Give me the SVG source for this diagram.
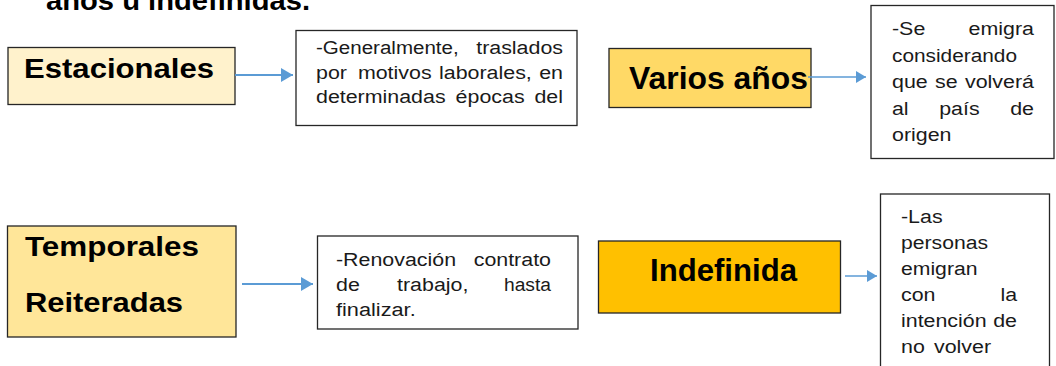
<svg xmlns="http://www.w3.org/2000/svg" width="1056" height="366" viewBox="0 0 1056 366">
<style>
.bx{stroke:#262626;stroke-width:1.3}
.tb{fill:#ffffff;stroke:#262626;stroke-width:1.3}
.h{font-family:"Liberation Sans",Arial,sans-serif;font-weight:bold;fill:#000}
.t{font-family:"Liberation Sans",Arial,sans-serif;font-size:18px;fill:#1a1a1a}
.c{stroke:#5B9BD5;fill:none}
</style>
<defs>
<marker id="ab" markerUnits="userSpaceOnUse" markerWidth="12" markerHeight="14" refX="12" refY="7" orient="auto"><path d="M0,0 L12,7 L0,14 Z" fill="#5B9BD5"/></marker>
<marker id="as" markerUnits="userSpaceOnUse" markerWidth="10" markerHeight="12" refX="10" refY="6" orient="auto"><path d="M0,0 L10,6 L0,12 Z" fill="#5B9BD5"/></marker>
</defs>
<rect width="1056" height="366" fill="#ffffff"/>
<text class="h" x="46" y="10" font-size="28" textLength="264" lengthAdjust="spacingAndGlyphs">años u indefinidas.</text>

<g id="estacionales">
<rect class="bx" x="8" y="47.5" width="227" height="57" fill="#FFF2CC"/>
<text class="h" x="24" y="78" font-size="27" textLength="190" lengthAdjust="spacingAndGlyphs">Estacionales</text>
</g>
<g id="desc-estacionales">
<rect class="tb" x="296" y="30.5" width="281" height="95"/>
<text class="t" x="316" y="54" textLength="142.7" lengthAdjust="spacingAndGlyphs">-Generalmente,</text>
<text class="t" x="476.2" y="54" textLength="86.8" lengthAdjust="spacingAndGlyphs">traslados</text>
<text class="t" x="316" y="78.5" textLength="30.9" lengthAdjust="spacingAndGlyphs">por</text>
<text class="t" x="357.9" y="78.5" textLength="73.7" lengthAdjust="spacingAndGlyphs">motivos</text>
<text class="t" x="439" y="78.5" textLength="92.8" lengthAdjust="spacingAndGlyphs">laborales,</text>
<text class="t" x="539.2" y="78.5" textLength="23.8" lengthAdjust="spacingAndGlyphs">en</text>
<text class="t" x="316" y="103" textLength="129.6" lengthAdjust="spacingAndGlyphs">determinadas</text>
<text class="t" x="455.6" y="103" textLength="69" lengthAdjust="spacingAndGlyphs">épocas</text>
<text class="t" x="534.5" y="103" textLength="28.5" lengthAdjust="spacingAndGlyphs">del</text>
</g>

<g id="varios">
<rect class="bx" x="609" y="48.5" width="202" height="59" fill="#FFD966"/>
<text class="h" x="629" y="89" font-size="32" textLength="179" lengthAdjust="spacingAndGlyphs">Varios años</text>
</g>
<g id="desc-varios">
<rect class="tb" x="871" y="5.5" width="183" height="153"/>
<text class="t" x="892" y="35" textLength="33.3" lengthAdjust="spacingAndGlyphs">-Se</text>
<text class="t" x="968.6" y="35" textLength="65.4" lengthAdjust="spacingAndGlyphs">emigra</text>
<text class="t" x="892" y="61.5" textLength="125" lengthAdjust="spacingAndGlyphs">considerando</text>
<text class="t" x="892" y="88" textLength="35.7" lengthAdjust="spacingAndGlyphs">que</text>
<text class="t" x="935" y="88" textLength="22.6" lengthAdjust="spacingAndGlyphs">se</text>
<text class="t" x="965" y="88" textLength="69" lengthAdjust="spacingAndGlyphs">volverá</text>
<text class="t" x="892" y="114.5" textLength="16.6" lengthAdjust="spacingAndGlyphs">al</text>
<text class="t" x="939.2" y="114.5" textLength="40.4" lengthAdjust="spacingAndGlyphs">país</text>
<text class="t" x="1010.2" y="114.5" textLength="23.8" lengthAdjust="spacingAndGlyphs">de</text>
<text class="t" x="892" y="141" textLength="59.5" lengthAdjust="spacingAndGlyphs">origen</text>
</g>

<g id="temporales">
<rect class="bx" x="7.5" y="226" width="228.5" height="111" fill="#FFE699"/>
<text class="h" x="25" y="256" font-size="27" textLength="174" lengthAdjust="spacingAndGlyphs">Temporales</text>
<text class="h" x="25" y="312" font-size="27" textLength="158" lengthAdjust="spacingAndGlyphs">Reiteradas</text>
</g>
<g id="desc-temporales">
<rect class="tb" x="317.5" y="236" width="260.5" height="93"/>
<text class="t" x="336" y="266" textLength="120.1" lengthAdjust="spacingAndGlyphs">-Renovación</text>
<text class="t" x="473.7" y="266" textLength="77.3" lengthAdjust="spacingAndGlyphs">contrato</text>
<text class="t" x="336" y="291" textLength="23.8" lengthAdjust="spacingAndGlyphs">de</text>
<text class="t" x="397" y="291" textLength="71.4" lengthAdjust="spacingAndGlyphs">trabajo,</text>
<text class="t" x="504" y="291" textLength="47" lengthAdjust="spacingAndGlyphs">hasta</text>
<text class="t" x="336" y="316" textLength="79.7" lengthAdjust="spacingAndGlyphs">finalizar.</text>
</g>

<g id="indefinida">
<rect class="bx" x="598.5" y="241" width="242" height="72" fill="#FFC000"/>
<text class="h" x="650" y="280.5" font-size="31" textLength="147" lengthAdjust="spacingAndGlyphs">Indefinida</text>
</g>
<g id="desc-indefinida">
<rect class="tb" x="880.5" y="194" width="169" height="180"/>
<text class="t" x="901" y="223" textLength="41.6" lengthAdjust="spacingAndGlyphs">-Las</text>
<text class="t" x="901" y="249" textLength="87" lengthAdjust="spacingAndGlyphs">personas</text>
<text class="t" x="901" y="275" textLength="76.5" lengthAdjust="spacingAndGlyphs">emigran</text>
<text class="t" x="901" y="301" textLength="34.5" lengthAdjust="spacingAndGlyphs">con</text>
<text class="t" x="1000.4" y="301" textLength="16.6" lengthAdjust="spacingAndGlyphs">la</text>
<text class="t" x="901" y="327" textLength="85.6" lengthAdjust="spacingAndGlyphs">intención</text>
<text class="t" x="993.2" y="327" textLength="23.8" lengthAdjust="spacingAndGlyphs">de</text>
<text class="t" x="901" y="353" textLength="23.8" lengthAdjust="spacingAndGlyphs">no</text>
<text class="t" x="934" y="353" textLength="57.1" lengthAdjust="spacingAndGlyphs">volver</text>
</g>

<g id="connectors">
<line class="c" x1="235" y1="75" x2="293" y2="75" stroke-width="2" marker-end="url(#ab)"/>
<line class="c" x1="808" y1="77" x2="866" y2="77" stroke-width="1.3" marker-end="url(#as)"/>
<line class="c" x1="242" y1="284" x2="313" y2="284" stroke-width="2" marker-end="url(#ab)"/>
<line class="c" x1="845" y1="276" x2="877" y2="276" stroke-width="1.5" marker-end="url(#as)"/>
</g>
</svg>
